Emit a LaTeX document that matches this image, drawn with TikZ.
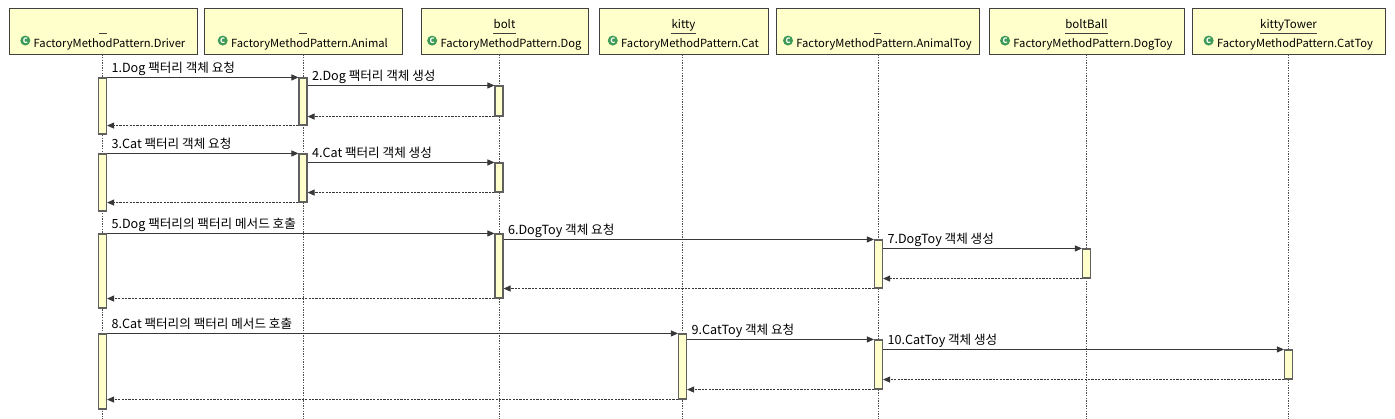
\documentclass[tikz,border=0pt]{standalone}
\usepackage{fontspec}
\setmainfont{Noto Sans CJK KR}
\usetikzlibrary{arrows.meta,positioning}
\definecolor{boxfill}{HTML}{FFFFCC}
\definecolor{boxline}{HTML}{404040}
\definecolor{barline}{HTML}{606060}
\definecolor{msgline}{HTML}{383838}
\definecolor{lifegray}{HTML}{505050}
\definecolor{icongreen}{HTML}{3D9B55}
\tikzset{
  objbox/.style={draw=boxline,fill=boxfill,line width=0.9pt,minimum height=46pt,inner sep=0pt},
  objname/.style={anchor=base,inner sep=0pt,minimum width=7pt,font=\fontsize{11.5}{12}\selectfont},
  clsname/.style={anchor=base,inner sep=0pt,font=\fontsize{11.2}{12}\selectfont},
  clsicon/.style={circle,fill=icongreen,text=white,inner sep=0pt,minimum size=10pt,font=\fontsize{7.5}{7.5}\bfseries\selectfont},
  actbar/.style={draw=barline,fill=boxfill,line width=1.1pt,minimum width=8pt,inner sep=0pt},
  lifeline/.style={draw=lifegray,line width=0.8pt,dash pattern=on 1.3pt off 1.3pt},
  msg/.style={draw=msgline,line width=1pt,-{Triangle[length=7pt,width=6pt]}},
  ret/.style={msg,dash pattern=on 2.2pt off 1.2pt},
  msglabel/.style={at start,anchor=base west,xshift=4pt,yshift=4.5pt,inner sep=0pt,font=\fontsize{12.6}{13}\selectfont},
}
\begin{document}
\begin{tikzpicture}[x=1pt,y=-1pt]
\useasboundingbox[fill=white] (0,0) rectangle (1395,419);
% participants
\foreach \n/\x/\l/\r/\obj/\cls in {dr/102.5/9/197//Driver, an/303/204/402//Animal, dg/499/421/588/bolt/Dog,
    ct/682.5/599/768/kitty/Cat, at/878.5/776/979//AnimalToy, dt/1086.5/989/1184/boltBall/DogToy,
    tt/1288.5/1192/1385/kittyTower/CatToy}{
  \coordinate (end-\n) at (\x,419);
  \node[objbox,minimum width={\r-\l}] (box-\n) at ({(\l+\r)/2},31) {};
  \draw[lifeline] (box-\n.south -| end-\n) -- (end-\n);
  \node[objname] (nm-\n) at ({(\l+\r)/2},29) {\obj};
  \draw[boxline,line width=0.7pt] (nm-\n.west |- 0,33) -- (nm-\n.east |- 0,33);
  \node[clsname] (cls-\n) at ({(\l+\r)/2+6.5},47.5) {FactoryMethodPattern.\cls};
  \node[clsicon,left=3pt of cls-\n.west,yshift=3.8pt] (ic-\n) {C};
}
% activation bars
\foreach \b/\x/\t/\u in {d1/102.5/78/134, a1/303/78/125, g1/499/86/116,
    d2/102.5/154/211, a2/303/154/202, g2/499/163/192,
    d3/102.5/234/308, g3/499/234/298, t3/878.5/240/288, b3/1086.5/249/278,
    d4/102.5/334/409, c4/682.5/334/399, t4/878.5/340/389, k4/1288.5/350/379}
  \node[actbar,minimum height={\u-\t}] (\b) at (\x,{(\t+\u)/2}) {};
% Dog factory
\draw[msg] (d1.north east) -- node[msglabel]{1.Dog 팩터리 객체 요청} (a1.north west);
\draw[msg] (a1.east |- g1.north) -- node[msglabel]{2.Dog 팩터리 객체 생성} (g1.north west);
\draw[ret] (g1.south west) -- (a1.east |- g1.south);
\draw[ret] (a1.south west) -- (d1.east |- a1.south);
% Cat factory
\draw[msg] (d2.north east) -- node[msglabel]{3.Cat 팩터리 객체 요청} (a2.north west);
\draw[msg] (a2.east |- g2.north) -- node[msglabel]{4.Cat 팩터리 객체 생성} (g2.north west);
\draw[ret] (g2.south west) -- (a2.east |- g2.south);
\draw[ret] (a2.south west) -- (d2.east |- a2.south);
% DogToy
\draw[msg] (d3.north east) -- node[msglabel]{5.Dog 팩터리의 팩터리 메서드 호출} (g3.north west);
\draw[msg] (g3.east |- t3.north) -- node[msglabel]{6.DogToy 객체 요청} (t3.north west);
\draw[msg] (t3.east |- b3.north) -- node[msglabel]{7.DogToy 객체 생성} (b3.north west);
\draw[ret] (b3.south west) -- (t3.east |- b3.south);
\draw[ret] (t3.south west) -- (g3.east |- t3.south);
\draw[ret] (g3.south west) -- (d3.east |- g3.south);
% CatToy
\draw[msg] (d4.north east) -- node[msglabel]{8.Cat 팩터리의 팩터리 메서드 호출} (c4.north west);
\draw[msg] (c4.east |- t4.north) -- node[msglabel]{9.CatToy 객체 요청} (t4.north west);
\draw[msg] (t4.east |- k4.north) -- node[msglabel]{10.CatToy 객체 생성} (k4.north west);
\draw[ret] (k4.south west) -- (t4.east |- k4.south);
\draw[ret] (t4.south west) -- (c4.east |- t4.south);
\draw[ret] (c4.south west) -- (d4.east |- c4.south);
\end{tikzpicture}
\end{document}
